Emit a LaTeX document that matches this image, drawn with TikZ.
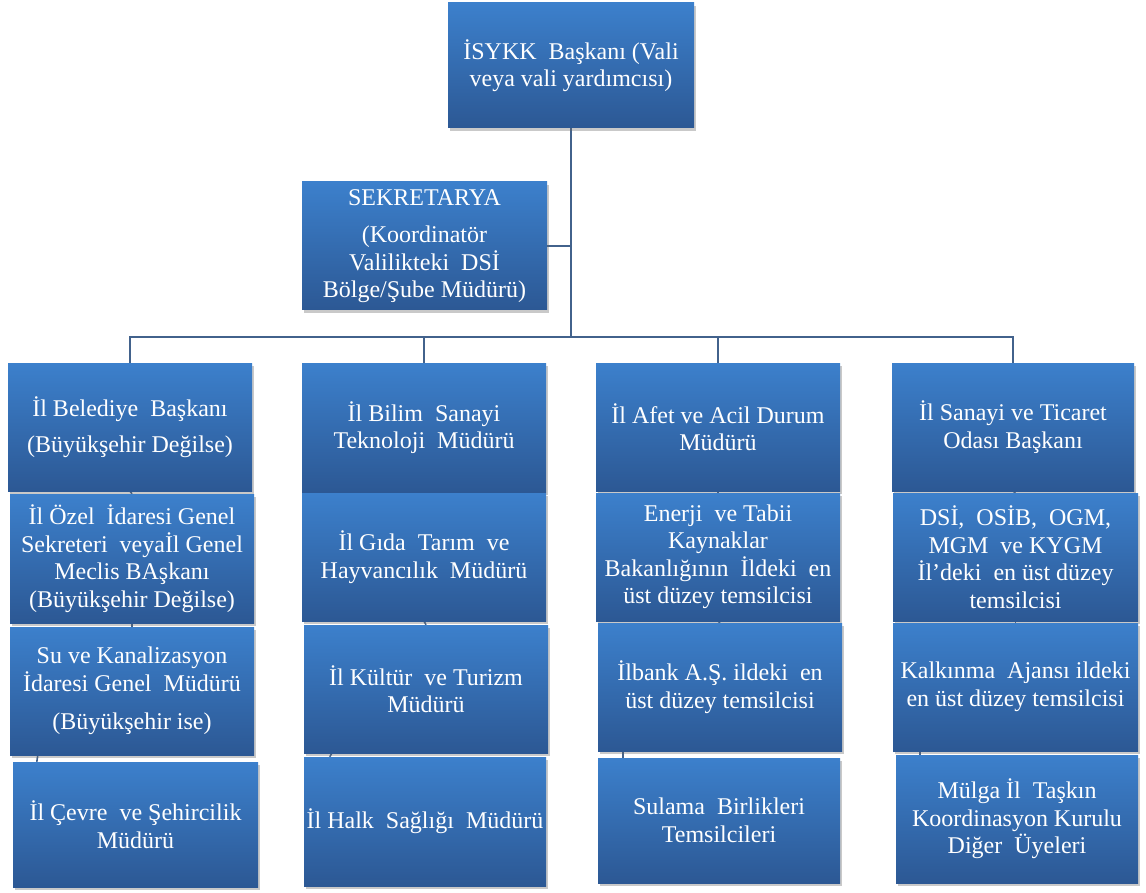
\documentclass[tikz,border=0pt]{standalone}
\usepackage{fontspec}
\setmainfont{Liberation Serif}
\usetikzlibrary{shadows,backgrounds}
\definecolor{boxtop}{RGB}{60,128,204}
\definecolor{boxbot}{RGB}{44,88,148}
\definecolor{linecol}{RGB}{66,98,140}
\tikzset{
  orgbox/.style={rectangle, inner sep=0pt, top color=boxtop, bottom color=boxbot,
    draw=none, text=white, align=center,
    font=\fontsize{24}{27.5}\selectfont,
    drop shadow={opacity=0.35, shadow xshift=2pt, shadow yshift=-3pt, fill=black!60}},
  conn/.style={draw=linecol, line width=1.6pt}
}
\begin{document}
\begin{tikzpicture}[x=1pt,y=-1pt]
\useasboundingbox (0,0) rectangle (1146,893);

% top
\node[orgbox, minimum width=246pt, minimum height=125pt] (top) at (571,65.5)
  {İSYKK\ \ Başkanı (Vali\\veya vali yardımcısı)};
\node[orgbox, minimum width=245pt, minimum height=128pt] (sek) at (424.5,246)
  {SEKRETARYA\\[10pt](Koordinatör\\Valilikteki\ \ DSİ\\Bölge/Şube Müdürü)};

% column 1
\node[orgbox, minimum width=244pt, minimum height=128pt] (c1b1) at (130,427)
  {İl Belediye\ \ Başkanı\\[9pt](Büyükşehir Değilse)};
\node[orgbox, minimum width=244pt, minimum height=129pt] (c1b2) at (132,558.5)
  {İl Özel\ \ İdaresi Genel\\Sekreteri\ \ veyaİl Genel\\Meclis BAşkanı\\(Büyükşehir Değilse)};
\node[orgbox, minimum width=244pt, minimum height=128pt] (c1b3) at (132,691)
  {Su ve Kanalizasyon\\İdaresi Genel\ \ Müdürü\\[11pt](Büyükşehir ise)};
\node[orgbox, minimum width=245pt, minimum height=125pt] (c1b4) at (135.5,824.5)
  {İl Çevre\ \ ve Şehircilik\\Müdürü};

% column 2
\node[orgbox, minimum width=244pt, minimum height=129pt] (c2b1) at (424,427.5)
  {İl Bilim\ \ Sanayi\\Teknoloji\ \ Müdürü};
\node[orgbox, minimum width=244pt, minimum height=128pt] (c2b2) at (424,557)
  {İl Gıda\ \ Tarım\ \ ve\\Hayvancılık\ \ Müdürü};
\node[orgbox, minimum width=244pt, minimum height=128pt] (c2b3) at (426,689)
  {İl Kültür\ \ ve Turizm\\Müdürü};
\node[orgbox, minimum width=242pt, minimum height=129pt] (c2b4) at (425,821.5)
  {İl Halk\ \ Sağlığı\ \ Müdürü};

% column 3
\node[orgbox, minimum width=244pt, minimum height=128pt] (c3b1) at (718,427)
  {İl Afet ve Acil Durum\\Müdürü};
\node[orgbox, minimum width=244pt, minimum height=128pt] (c3b2) at (718,557)
  {Enerji\ \ ve Tabii\\Kaynaklar\\Bakanlığının\ \ İldeki\ \ en\\üst düzey temsilcisi};
\node[orgbox, minimum width=244pt, minimum height=128pt] (c3b3) at (720,687)
  {İlbank A.Ş. ildeki\ \ en\\üst düzey temsilcisi};
\node[orgbox, minimum width=242pt, minimum height=125pt] (c3b4) at (719,820.5)
  {Sulama\ \ Birlikleri\\Temsilcileri};

% column 4
\node[orgbox, minimum width=242pt, minimum height=128pt] (c4b1) at (1013,427)
  {İl Sanayi ve Ticaret\\Odası Başkanı};
\node[orgbox, minimum width=245pt, minimum height=128pt] (c4b2) at (1015.5,557)
  {DSİ,\ \ OSİB,\ \ OGM,\\MGM\ \ ve KYGM\\İl’deki\ \ en üst düzey\\temsilcisi};
\node[orgbox, minimum width=245pt, minimum height=128pt] (c4b3) at (1015.5,687)
  {Kalkınma\ \ Ajansı ildeki\\en üst düzey temsilcisi};
\node[orgbox, minimum width=242pt, minimum height=128pt] (c4b4) at (1017,819)
  {Mülga İl\ \ Taşkın\\Koordinasyon Kurulu\\Diğer\ \ Üyeleri};

\coordinate (busy) at (0,337);

\begin{scope}[on background layer]
\fill[white] (0,0) rectangle (1146,893);
\draw[conn] (top.south) -- (top.south |- busy);
\draw[conn] (sek.east) -- (sek.east -| top.south);
\draw[conn] (c1b1.north) -- (c1b1.north |- busy) -- (c4b1.north |- busy) -- (c4b1.north);
\draw[conn] (c2b1.north) -- (c2b1.north |- busy);
\draw[conn] (c3b1.north) -- (c3b1.north |- busy);
% stacked ticks
\draw[conn] (c1b1.south) -- (c1b2.north);
\draw[conn] (c1b2.south) -- (c1b3.north);
\draw[conn] ([xshift=28pt]c1b3.south west) -- ([xshift=24pt]c1b4.north west);
\draw[conn] (c2b1.south) -- (c2b2.north);
\draw[conn] (c2b2.south) -- (c2b3.north);
\draw[conn] ([xshift=28pt]c2b3.south west) -- ([xshift=26pt]c2b4.north west);
\draw[conn] (c3b1.south) -- (c3b2.north);
\draw[conn] (c3b2.south) -- (c3b3.north);
\draw[conn] ([xshift=25pt]c3b3.south west) -- ([xshift=25pt]c3b4.north west);
\draw[conn] (c4b1.south) -- (c4b2.north);
\draw[conn] (c4b2.south) -- (c4b3.north);
\draw[conn] ([xshift=27pt]c4b3.south west) -- ([xshift=24pt]c4b4.north west);
\end{scope}
\end{tikzpicture}
\end{document}
